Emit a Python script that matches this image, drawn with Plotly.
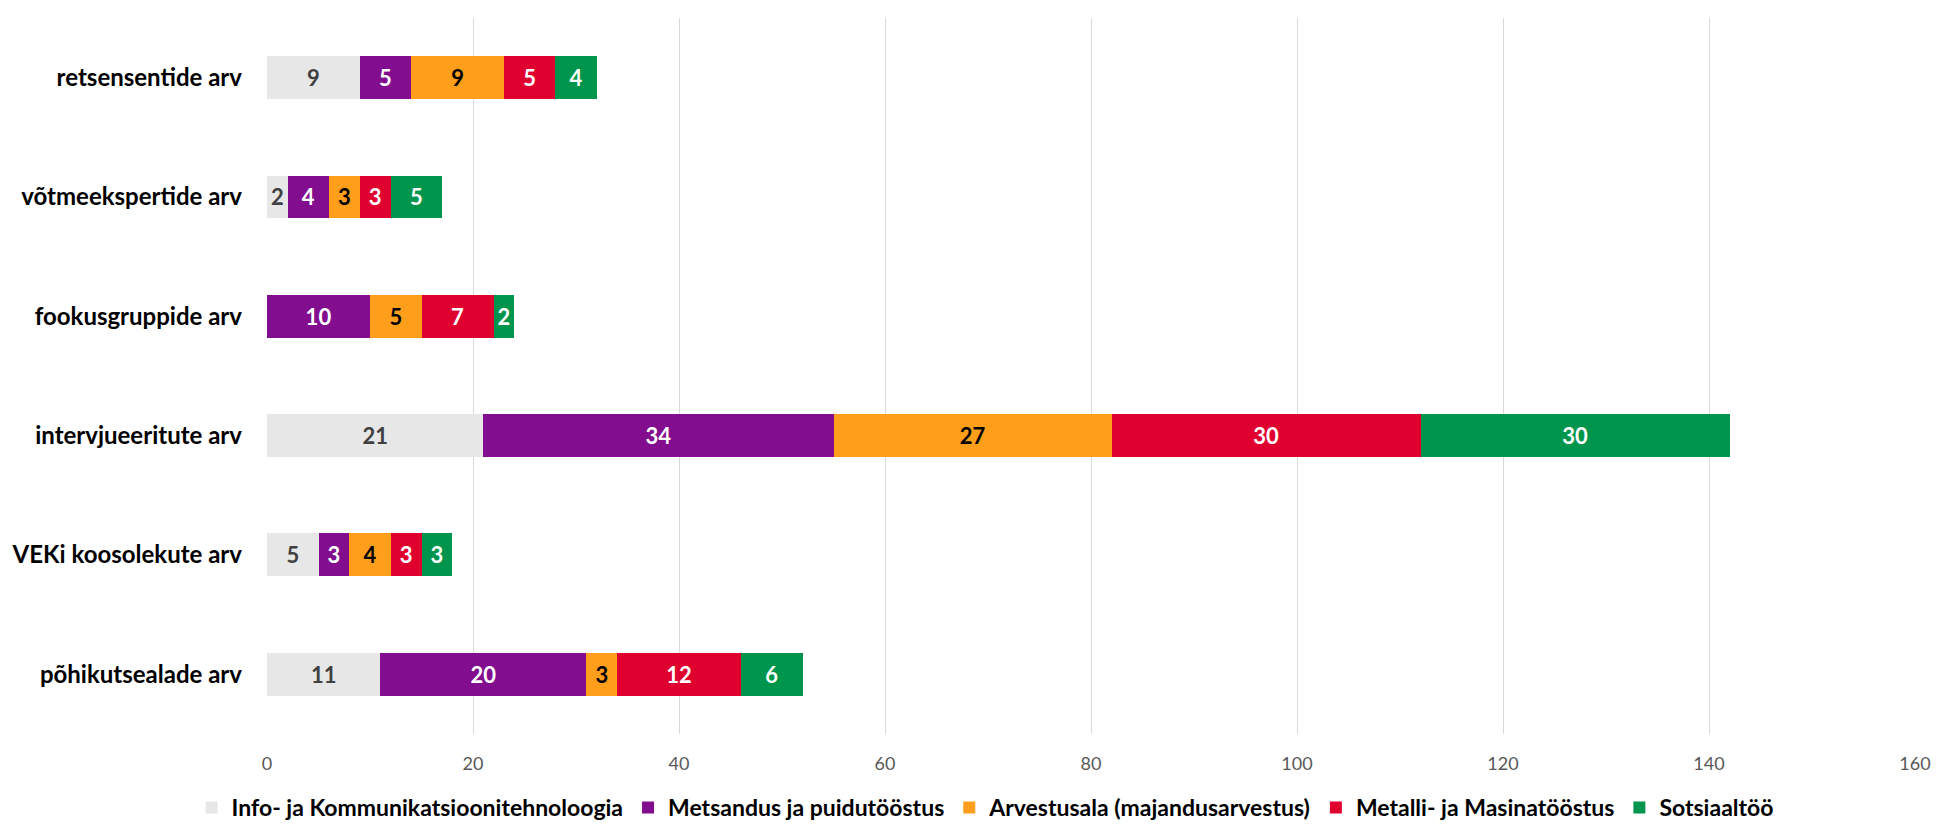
import plotly.graph_objects as go

categories = ["põhikutsealade arv", "VEKi koosolekute arv", "intervjueeritute arv",
              "fookusgruppide arv", "võtmeekspertide arv", "retsensentide arv"]

series_names = ["Info- ja Kommunikatsioonitehnoloogia", "Metsandus ja puidutööstus",
                "Arvestusala (majandusarvestus)", "Metalli- ja Masinatööstus", "Sotsiaaltöö"]

info = [11, 5, 21, 0, 2, 9]
metsandus = [20, 3, 34, 10, 4, 5]
arvestus = [3, 4, 27, 5, 3, 9]
metalli = [12, 3, 30, 7, 3, 5]
sotsiaal = [6, 3, 30, 2, 5, 4]

tick_vals = [0, 20, 40, 60, 80, 100, 120, 140, 160]

series_values = [info, metsandus, arvestus, metalli, sotsiaal]
colors = ["#E7E7E7", "#820D8E", "#FF9E1B", "#DF0030", "#00954C"]
text_colors = ["#404040", "#FFFFFF", "#000000", "#FFFFFF", "#FFFFFF"]

FONT = "Lato"

fig = go.Figure()
for name, vals, col, tcol in zip(series_names, series_values, colors, text_colors):
    fig.add_trace(go.Bar(
        y=categories, x=vals, name=name, orientation="h",
        marker=dict(color=col, line=dict(width=0)),
        text=[str(v) if v else "" for v in vals],
        textposition="inside", insidetextanchor="middle", textangle=0,
        insidetextfont=dict(family=FONT, size=22, color=tcol, weight="bold"),
        hoverinfo="x+name",
    ))

fig.update_layout(
    barmode="stack",
    bargap=0.64,
    width=1943, height=829,
    paper_bgcolor="white", plot_bgcolor="white",
    margin=dict(l=264, r=22, t=18, b=92),
    font=dict(family=FONT),
    xaxis=dict(range=[0, 160], tickvals=tick_vals, showgrid=True, gridcolor="#D9D9D9",
               gridwidth=1, zeroline=False, showline=False, ticks="",
               tickfont=dict(family=FONT, size=18, color="#595959"), ticklabelstandoff=17),
    yaxis=dict(showgrid=False, zeroline=False, showline=False, ticks="",
               tickfont=dict(family=FONT, size=24, color="#000000", weight="bold"),
               ticklabelstandoff=24),
    legend=dict(orientation="h", xref="container", yref="container", x=0.507, y=0.026,
                xanchor="center", yanchor="middle", traceorder="normal",
                font=dict(family=FONT, size=23, color="#000000", weight="bold"),
                itemwidth=30),
)

fig.write_html("out.html", config={"displayModeBar": False},
               post_script="document.body.style.margin='0';")
